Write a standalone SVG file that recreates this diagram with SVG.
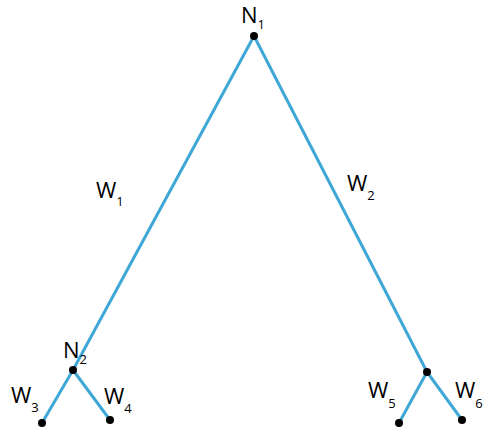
<svg xmlns="http://www.w3.org/2000/svg" width="483" height="429" viewBox="0 0 483 429">
<style>
.e{stroke:#3fa7d6;stroke-width:3;fill:none}
.d{fill:#000}
.t{font-family:"Open Sans","Noto Sans",sans-serif;font-size:22px;fill:#000}
.s{font-size:13px}
</style>
<rect width="483" height="429" fill="#fff"/>
<g id="connectors">
<line class="e" x1="254" y1="36" x2="73" y2="370"/>
<line class="e" x1="254" y1="36" x2="427" y2="372"/>
<line class="e" x1="73" y1="370" x2="42" y2="423"/>
<line class="e" x1="73" y1="370" x2="110" y2="420"/>
<line class="e" x1="427" y1="372" x2="399" y2="423"/>
<line class="e" x1="427" y1="372" x2="462" y2="420"/>
</g>
<g id="N1"><circle class="d" cx="254" cy="36" r="4"/><text class="t" x="241" y="23">N<tspan class="s" dy="6">1</tspan></text></g>
<g id="N2"><circle class="d" cx="73" cy="370" r="4"/><text class="t" x="63" y="358">N<tspan class="s" dy="6">2</tspan></text></g>
<g id="N3"><circle class="d" cx="427" cy="372" r="4"/></g>
<g id="L3"><circle class="d" cx="42" cy="423" r="4"/><text class="t" x="11" y="403">W<tspan class="s" dy="9">3</tspan></text></g>
<g id="L4"><circle class="d" cx="110" cy="420" r="4"/><text class="t" x="104" y="404">W<tspan class="s" dy="9">4</tspan></text></g>
<g id="L5"><circle class="d" cx="399" cy="423" r="4"/><text class="t" x="368" y="398">W<tspan class="s" dy="10">5</tspan></text></g>
<g id="L6"><circle class="d" cx="462" cy="420" r="4"/><text class="t" x="455" y="398">W<tspan class="s" dy="10">6</tspan></text></g>
<g id="labels">
<text class="t" x="96" y="198">W<tspan class="s" dy="8">1</tspan></text>
<text class="t" x="347" y="191">W<tspan class="s" dy="9">2</tspan></text>
</g>
</svg>
